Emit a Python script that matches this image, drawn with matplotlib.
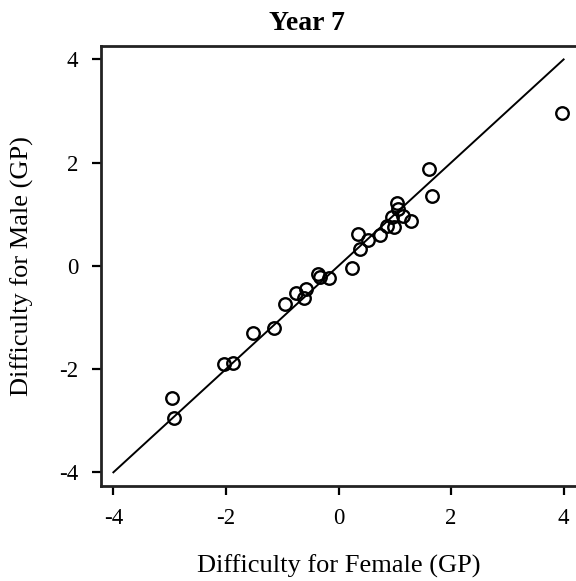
import matplotlib
matplotlib.use("Agg")
import matplotlib.pyplot as plt

# item difficulties (GP) by gender, Year 7
female = [3.97, 1.60, 1.67, 1.04, 1.06, 0.95, 1.14, 1.28, 0.86, 0.98,
          0.74, 0.35, 0.53, 0.39, 0.24, -0.37, -0.32, -0.16, -0.57, -0.75,
          -0.61, -0.95, -1.14, -1.52, -1.87, -2.04, -2.95, -2.93]
male = [2.97, 1.87, 1.36, 1.21, 1.11, 0.95, 0.96, 0.87, 0.78, 0.75,
        0.59, 0.62, 0.50, 0.32, -0.04, -0.16, -0.21, -0.24, -0.44, -0.53,
        -0.63, -0.74, -1.21, -1.30, -1.89, -1.90, -2.56, -2.95]
ticks = [-4, -2, 0, 2, 4]
ident = [-4, 4]

plt.rcParams['font.family'] = ['Liberation Serif', 'DejaVu Serif']

fig = plt.figure(figsize=(5.76, 5.81), dpi=100)
ax = fig.add_axes([101/576, 95/581, 475/576, 440/581])

ax.plot(ident, ident, color='black', lw=1.4)
ax.plot(female, male, 'o', ms=9, mfc='none', mec='black', mew=1.7)

ax.set_xlim(-4.22, 4.22)
ax.set_ylim(-4.265, 4.26)
ax.set_xticks(ticks)
ax.set_yticks(ticks)
ax.set_xticklabels([str(t) for t in ticks])
ax.set_yticklabels([str(t) for t in ticks])
ax.tick_params(axis='both', direction='out', length=6.5, width=1.6,
               labelsize=16.5, colors='black')
ax.tick_params(axis='x', pad=9)
ax.tick_params(axis='y', pad=10)

for s in ['left', 'bottom', 'top']:
    ax.spines[s].set_linewidth(2)
    ax.spines[s].set_color('#222222')
ax.spines['right'].set_visible(False)

ax.set_xlabel("Difficulty for Female (GP)", fontsize=19, labelpad=19)
ax.set_ylabel("Difficulty for Male (GP)", fontsize=19, labelpad=18)
fig.text(306.5/576, 1 - 23/581, "Year 7", fontsize=20, fontweight='bold',
         ha='center', va='center')

fig.savefig("out.png", dpi=100)
